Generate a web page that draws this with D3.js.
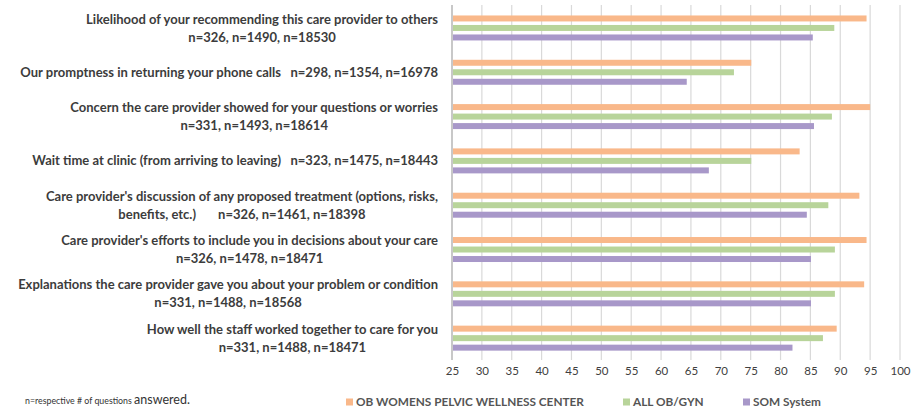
<!DOCTYPE html>
<html>
<head>
<meta charset="utf-8">
<script src="https://d3js.org/d3.v7.min.js"></script>
<style>
  body { margin: 0; background: #fff; }
  text { font-family: Lato, "Open Sans", sans-serif; }
</style>
</head>
<body>
<script>
// survey questions (wrapped lines as in the chart)
const categories = [
  ["Likelihood of your recommending this care provider to others", "n=326, n=1490, n=18530"],
  ["Our promptness in returning your phone calls   n=298, n=1354, n=16978"],
  ["Concern the care provider showed for your questions or worries", "n=331, n=1493, n=18614"],
  ["Wait time at clinic (from arriving to leaving)   n=323, n=1475, n=18443"],
  ["Care provider's discussion of any proposed treatment (options, risks,", "benefits, etc.)       n=326, n=1461, n=18398"],
  ["Care provider's efforts to include you in decisions about your care", "n=326, n=1478, n=18471"],
  ["Explanations the care provider gave you about your problem or condition", "n=331, n=1488, n=18568"],
  ["How well the staff worked together to care for you", "n=331, n=1488, n=18471"]
];

const seriesNames = ["OB WOMENS PELVIC WELLNESS CENTER", "ALL OB/GYN", "SOM System"];
const seriesColors = ["#f9b88a", "#b8d49a", "#a898c9"];

const pelvicWellness = [94.4, 75.1, 95.0, 83.2, 93.2, 94.4, 94.0, 89.4];
const allObGyn      = [89.0, 72.2, 88.6, 75.1, 88.0, 89.1, 89.1, 87.1];
const somSystem     = [85.4, 64.3, 85.6, 68.0, 84.4, 85.1, 85.1, 82.0];

const xTicks = d3.range(25, 101, 5);

const W = 911, H = 409;
const svg = d3.select("body").append("svg")
  .attr("width", W)
  .attr("height", H);

const x = d3.scaleLinear().domain([25, 100]).range([452, 900]);
const y = d3.scaleBand().domain(d3.range(categories.length)).range([5.8, 360.3]);
const ySub = d3.scaleBand().domain(seriesNames)
  .range([y.bandwidth() / 2 - 14.25, y.bandwidth() / 2 + 14.25])
  .paddingInner(0.37).paddingOuter(0.185);

// gridlines
svg.append("g").selectAll("line")
  .data(xTicks.slice(1))
  .join("line")
  .attr("x1", d => x(d)).attr("x2", d => x(d))
  .attr("y1", 5).attr("y2", 360)
  .attr("stroke", "#d9d9d9")
  .attr("stroke-width", 1.2);

// bars
const table = categories.map((c, i) => [pelvicWellness[i], allObGyn[i], somSystem[i]]);
const groups = svg.append("g").selectAll("g")
  .data(table)
  .join("g")
  .attr("transform", (d, i) => `translate(0,${y(i)})`);

groups.selectAll("rect")
  .data(d => d.map((v, k) => ({ v, k })))
  .join("rect")
  .attr("x", x(25))
  .attr("y", d => ySub(seriesNames[d.k]))
  .attr("width", d => x(d.v) - x(25))
  .attr("height", ySub.bandwidth())
  .attr("fill", d => seriesColors[d.k]);

// vertical axis line
svg.append("line")
  .attr("x1", x(25)).attr("x2", x(25))
  .attr("y1", 5).attr("y2", 360)
  .attr("stroke", "#c8c8c8")
  .attr("stroke-width", 2);

// x axis labels
const xAxis = svg.append("g")
  .attr("transform", "translate(0,360)")
  .call(d3.axisBottom(x).tickValues(xTicks).tickSize(0).tickPadding(7));
xAxis.select(".domain").remove();
xAxis.selectAll("text")
  .attr("font-family", "Lato, sans-serif")
  .attr("font-size", 11.5)
  .attr("fill", "#404040");

// category labels: block right-aligned, lines centered
const labelRight = 438;
const lineH = 18;
categories.forEach((lines, i) => {
  const g = svg.append("g");
  const cy = y(i) + y.bandwidth() / 2;
  const texts = lines.map((t, j) => g.append("text")
    .attr("xml:space", "preserve")
    .style("white-space", "pre")
    .attr("font-size", 13)
    .attr("font-weight", "bold")
    .attr("fill", "#3c3c3c")
    .attr("text-anchor", "middle")
    .attr("dy", "0.35em")
    .attr("y", cy + (j - (lines.length - 1) / 2) * lineH)
    .text(t));
  const maxW = d3.max(texts, t => t.node().getComputedTextLength());
  texts.forEach(t => t.attr("x", labelRight - maxW / 2));
});

// footnote
const note = svg.append("text")
  .attr("x", 25).attr("y", 404)
  .attr("fill", "#333");
note.append("tspan").attr("font-size", 8.8).text("n=respective # of questions ");
note.append("tspan").attr("font-size", 12.5).text("answered.");

// legend
const legendX = [346, 623, 743];
const legend = svg.append("g").selectAll("g")
  .data(seriesNames)
  .join("g")
  .attr("transform", (d, i) => `translate(${legendX[i]},402)`);
legend.append("rect")
  .attr("x", 0).attr("y", -3.5)
  .attr("width", 7).attr("height", 7)
  .attr("fill", (d, i) => seriesColors[i]);
legend.append("text")
  .attr("x", 10).attr("dy", "0.35em")
  .attr("font-size", 11.8)
  .attr("font-weight", "bold")
  .attr("fill", "#555")
  .text(d => d);
</script>
</body>
</html>
